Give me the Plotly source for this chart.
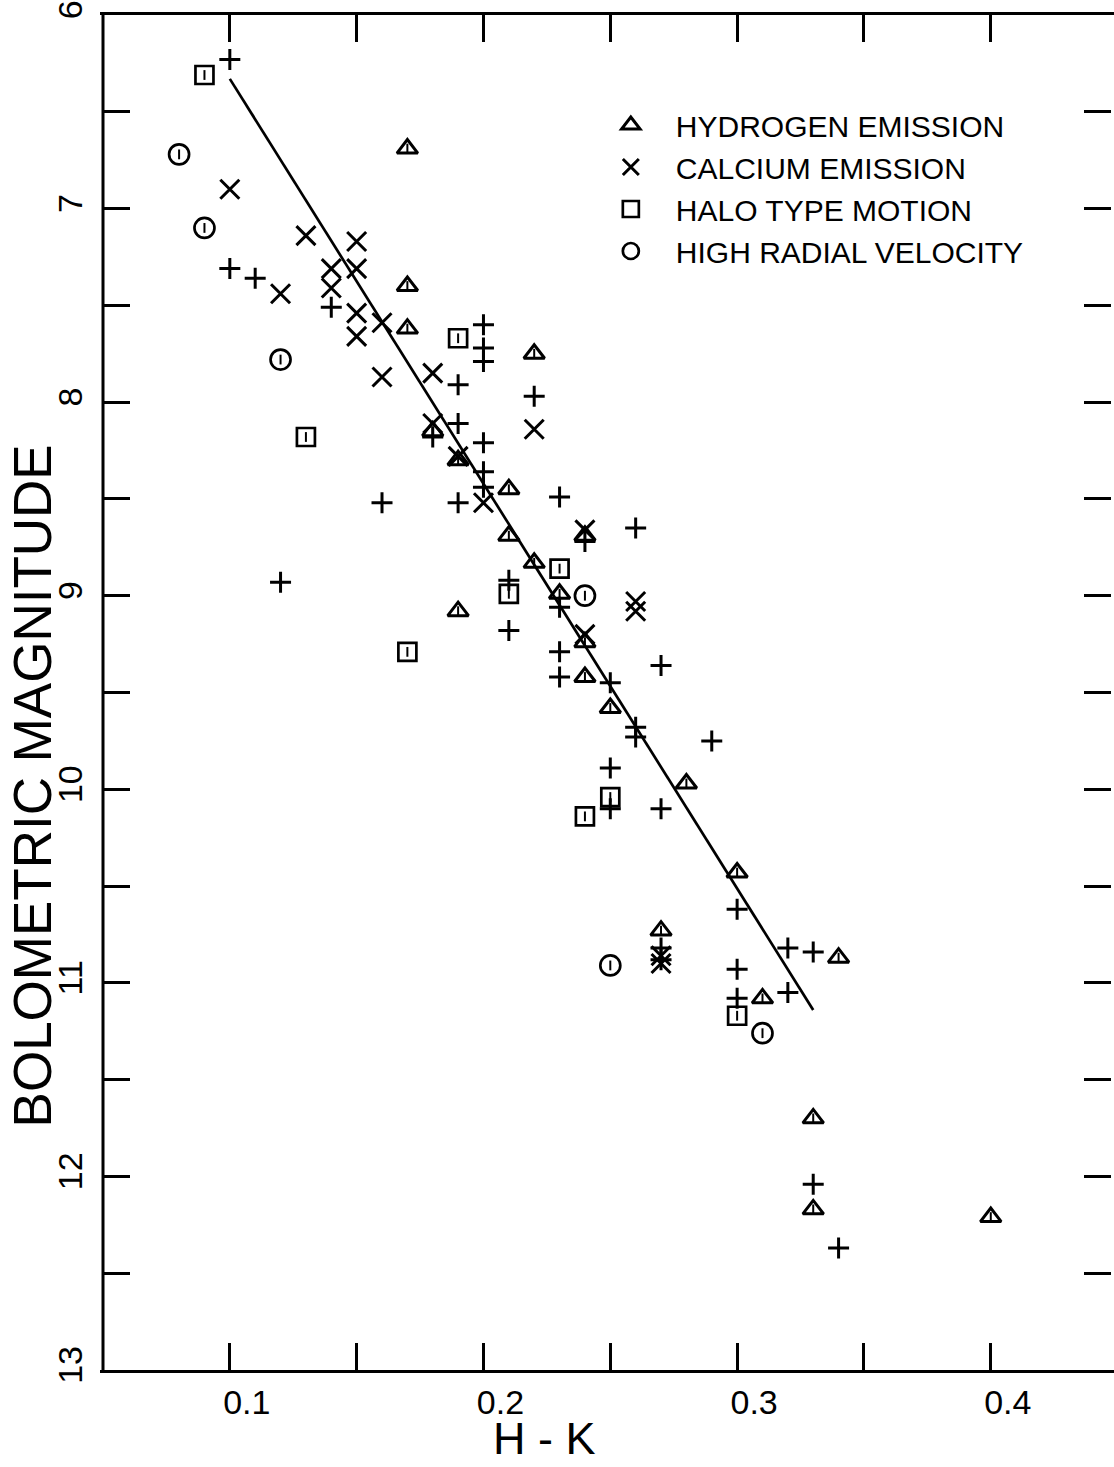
import plotly.graph_objects as go

# ---- data (H-K, bolometric magnitude) ----
hyd_x = [0.17, 0.17, 0.17, 0.22, 0.18, 0.19, 0.21, 0.21, 0.24, 0.22, 0.23, 0.19, 0.24,
         0.24, 0.25, 0.28, 0.30, 0.27, 0.34, 0.31, 0.33, 0.33, 0.40]
hyd_y = [6.69, 7.40, 7.62, 7.75, 8.15, 8.30, 8.45, 8.69, 8.69, 8.83, 8.99, 9.08, 9.24,
         9.42, 9.58, 9.97, 10.43, 10.73, 10.87, 11.08, 11.70, 12.17, 12.21]

ca_x = [0.10, 0.13, 0.15, 0.14, 0.15, 0.12, 0.14, 0.15, 0.16, 0.15, 0.16, 0.18, 0.22,
        0.18, 0.19, 0.20, 0.24, 0.26, 0.26, 0.24, 0.27, 0.27]
ca_y = [6.90, 7.14, 7.17, 7.31, 7.31, 7.44, 7.41, 7.54, 7.59, 7.66, 7.87, 7.85, 8.14,
        8.11, 8.28, 8.52, 8.66, 9.03, 9.08, 9.20, 10.86, 10.90]

halo_x = [0.09, 0.19, 0.13, 0.23, 0.21, 0.17, 0.25, 0.24, 0.30]
halo_y = [6.31, 7.67, 8.18, 8.86, 8.99, 9.29, 10.04, 10.14, 11.17]

vel_x = [0.08, 0.09, 0.12, 0.24, 0.25, 0.31]
vel_y = [6.72, 7.10, 7.78, 9.00, 10.91, 11.26]

oth_x = [0.10, 0.10, 0.11, 0.14, 0.20, 0.20, 0.20, 0.19, 0.22, 0.18, 0.19, 0.20, 0.20,
         0.20, 0.19, 0.16, 0.23, 0.24, 0.26, 0.12, 0.21, 0.23, 0.21, 0.23, 0.23, 0.25,
         0.27, 0.26, 0.26, 0.29, 0.25, 0.25, 0.27, 0.30, 0.27, 0.27, 0.32, 0.33, 0.30,
         0.30, 0.32, 0.33, 0.34]
oth_y = [6.23, 7.31, 7.36, 7.51, 7.60, 7.72, 7.79, 7.91, 7.97, 8.18, 8.11, 8.21, 8.36,
         8.44, 8.52, 8.52, 8.49, 8.72, 8.65, 8.93, 8.92, 9.06, 9.18, 9.29, 9.42, 9.45,
         9.36, 9.68, 9.73, 9.75, 9.89, 10.10, 10.10, 10.62, 10.82, 10.88, 10.82, 10.84,
         10.93, 11.08, 11.05, 12.04, 12.37]

fit_x = [0.10, 0.33]
fit_y = [6.33, 11.14]

x_tickvals = [0.05, 0.10, 0.15, 0.20, 0.25, 0.30, 0.35, 0.40, 0.45]
x_ticktext = ["", "0.1", "", "0.2", "", "0.3", "", "0.4", ""]
y_tickvals = [6, 6.5, 7, 7.5, 8, 8.5, 9, 9.5, 10, 10.5, 11, 11.5, 12, 12.5, 13]
y_ticktext = ["6", "", "7", "", "8", "", "9", "", "10", "", "11", "", "12", "", "13"]

legend_names = ["HYDROGEN EMISSION", "CALCIUM EMISSION", "HALO TYPE MOTION",
                "HIGH RADIAL VELOCITY"]

FONT = "Liberation Sans, Arial, sans-serif"
BLACK = "black"

fig = go.Figure()

fig.add_trace(go.Scatter(x=fit_x, y=fit_y, mode="lines",
                         line=dict(color=BLACK, width=2.7), showlegend=False,
                         hoverinfo="skip"))

fig.add_trace(go.Scatter(x=oth_x, y=oth_y, mode="markers", showlegend=False,
                         marker=dict(symbol="cross-thin-open", size=15, color=BLACK,
                                     line=dict(color=BLACK, width=3))))

fig.add_trace(go.Scatter(x=hyd_x, y=hyd_y, mode="markers", name=legend_names[0],
                         marker=dict(symbol="triangle-up-open", size=18, color=BLACK,
                                     line=dict(color=BLACK, width=3))))
fig.add_trace(go.Scatter(x=ca_x, y=ca_y, mode="markers", name=legend_names[1],
                         marker=dict(symbol="x-thin-open", size=19, color=BLACK,
                                     line=dict(color=BLACK, width=3))))
fig.add_trace(go.Scatter(x=halo_x, y=halo_y, mode="markers", name=legend_names[2],
                         marker=dict(symbol="square-open", size=18, color=BLACK,
                                     line=dict(color=BLACK, width=2.7))))
fig.add_trace(go.Scatter(x=vel_x, y=vel_y, mode="markers", name=legend_names[3],
                         marker=dict(symbol="circle-open", size=20, color=BLACK,
                                     line=dict(color=BLACK, width=2.7))))

# small inner strokes of the plotter symbols (triangle, square, circle)
for xs, ys in ((hyd_x, hyd_y), (halo_x, halo_y), (vel_x, vel_y)):
    fig.add_trace(go.Scatter(x=xs, y=ys, mode="markers", showlegend=False,
                             hoverinfo="skip",
                             marker=dict(symbol="line-ns-open", size=7, color=BLACK,
                                         line=dict(color=BLACK, width=2))))

axis_common = dict(mirror="ticks", ticks="inside", ticklen=27, tickwidth=3,
                   tickcolor=BLACK, showgrid=False, zeroline=False,
                   ticklabeloverflow="allow",
                   tickfont=dict(family=FONT, size=34, color=BLACK))

fig.update_xaxes(range=[0.05, 0.4474], tickmode="array", tickvals=x_tickvals,
                 ticktext=x_ticktext, ticklabelshift=17, ticklabelstandoff=0,
                 showline=True, linecolor=BLACK, linewidth=3, **axis_common)
# the right frame edge lies just outside the page in the original, so only the
# left frame edge is drawn (as a shape) while ticks appear on both sides
fig.update_yaxes(range=[13, 6], tickmode="array", tickvals=y_tickvals,
                 ticktext=y_ticktext, tickangle=-90, ticklabelstandoff=4,
                 showline=True, linecolor="rgba(0,0,0,0)", linewidth=3, **axis_common)
fig.add_shape(type="line", xref="paper", yref="paper", x0=0, x1=0, y0=0, y1=1,
              line=dict(color=BLACK, width=3), layer="above")

fig.add_annotation(text="H - K", xref="paper", yref="paper", x=0.438, y=-0.0508,
                   xanchor="center", yanchor="middle", showarrow=False,
                   font=dict(family=FONT, size=45, color=BLACK))
fig.add_annotation(text="BOLOMETRIC MAGNITUDE", xref="paper", yref="paper",
                   x=-0.069, y=0.431, xanchor="center", yanchor="middle",
                   textangle=-90, showarrow=False,
                   font=dict(family=FONT, size=53, color=BLACK))

fig.update_layout(
    width=1114, height=1467,
    margin=dict(l=103, r=0, t=14, b=97),
    paper_bgcolor="white", plot_bgcolor="white",
    showlegend=True,
    legend=dict(x=0.479, y=0.938, xanchor="left", yanchor="top",
                bgcolor="rgba(0,0,0,0)", itemwidth=80,
                font=dict(family=FONT, size=30, color=BLACK),
                itemclick=False, itemdoubleclick=False),
)

fig.write_html("out.html")
